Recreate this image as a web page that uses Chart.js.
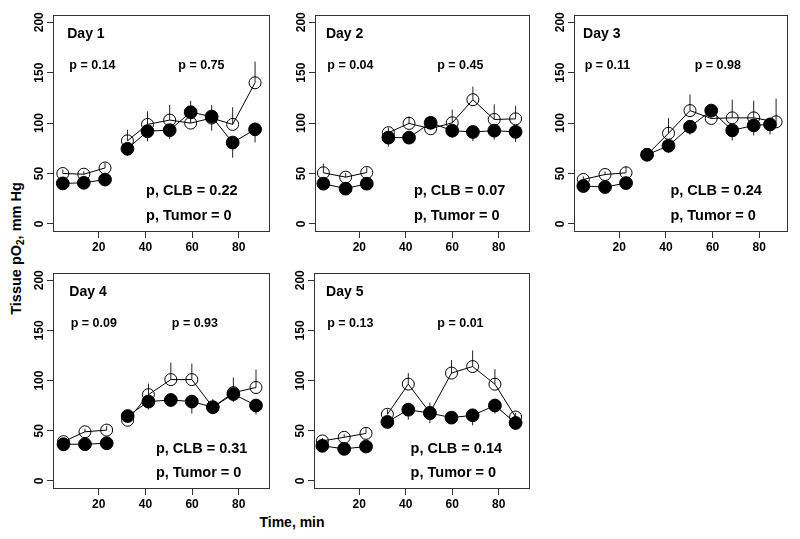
<!DOCTYPE html>
<html><head><meta charset="utf-8">
<script src="https://cdn.jsdelivr.net/npm/chart.js@4.4.0/dist/chart.umd.min.js"></script>
<style>
body{margin:0;background:#fff;width:800px;height:539px;position:relative;overflow:hidden;font-family:"Liberation Sans",Arial,sans-serif;}
canvas{position:absolute;}
.t{position:absolute;font-weight:bold;color:#000;white-space:nowrap;text-align:center;}
.t sub{font-size:10px;line-height:0;vertical-align:-3px;}
</style></head><body>
<div class="t" style="left:192px;top:514px;width:200px;font-size:14px;line-height:16px;">Time, min</div>
<div class="t" style="left:-84px;top:240px;width:200px;font-size:14.5px;line-height:17px;transform:rotate(-90deg);transform-origin:center;">Tissue pO<sub>2</sub>, mm Hg</div>
<script>
// ---- data ----
const xTicks = [20, 40, 60, 80];
const yTicks = [0, 50, 100, 150, 200];
const dayLabels = ['Day 1', 'Day 2', 'Day 3', 'Day 4', 'Day 5'];
const pBaseline = ['p = 0.14', 'p = 0.04', 'p = 0.11', 'p = 0.09', 'p = 0.13'];
const pTreatment = ['p = 0.75', 'p = 0.45', 'p = 0.98', 'p = 0.93', 'p = 0.01'];
const pCLB = ['p, CLB = 0.22', 'p, CLB = 0.07', 'p, CLB = 0.24', 'p, CLB = 0.31', 'p, CLB = 0.14'];
const pTumor = ['p, Tumor = 0', 'p, Tumor = 0', 'p, Tumor = 0', 'p, Tumor = 0', 'p, Tumor = 0'];

const day1Time = [4.6, 13.6, 22.7, 32.3, 40.9, 50.4, 59.4, 68.4, 77.4, 87.0];
const day1Open = [50, 49.3, 55.5, 82.4, 98.7, 103, 100, 105, 98.7, 140];
const day1OpenErr = [4, 3, 5, 11, 13, 15, 22, 13, 17, 21];
const day1Filled = [40.2, 40.8, 44, 74.5, 92, 93, 110.8, 106.5, 80.7, 93.8];
const day1FilledErr = [3, 3, 3, 7, 10, 9, 8, 14, 15, 13];

const day2Time = [4.5, 14.1, 23.2, 32.5, 41.4, 50.7, 60.0, 68.9, 78.1, 87.3];
const day2Open = [50.7, 46.4, 51, 90.5, 99.7, 94.4, 100.3, 123.2, 103.6, 104.2];
const day2OpenErr = [9, 4, 5, 5, 7, 4, 13, 13, 15, 13];
const day2Filled = [39.9, 35, 39.9, 85.6, 85.6, 100.3, 92.5, 91.2, 92.5, 91.3];
const day2FilledErr = [3, 3, 3, 9, 4, 5, 7, 9, 9, 10];

const day3Time = [4.6, 13.9, 22.9, 31.9, 41.1, 50.3, 59.4, 68.4, 77.6, 87.2];
const day3FilledTime = [4.6, 13.9, 22.9, 31.9, 41.1, 50.3, 59.4, 68.4, 77.6, 84.6];
const day3Open = [44.1, 49, 50.7, 68.6, 89.9, 112.4, 104.6, 105.2, 105.2, 101.3];
const day3OpenErr = [3, 3, 6, 4, 15, 16, 6, 18, 17, 23];
const day3Filled = [37.6, 36.6, 40.5, 68.6, 77.5, 96.4, 112.4, 92.8, 97.7, 98.7];
const day3FilledErr = [3, 3, 3, 4, 7, 8, 6, 10, 10, 10];

const day4Time = [4.9, 14.1, 23.4, 32.4, 41.3, 50.9, 59.9, 68.9, 77.7, 87.4];
const day4Open = [39.2, 49, 50.7, 60.5, 86, 101, 101, 73.5, 88, 93.1];
const day4OpenErr = [3, 3, 4, 3, 11, 17, 16, 8, 15, 18];
const day4Filled = [36.6, 36.6, 37.6, 64.7, 79.1, 80.7, 79.1, 73.5, 86.6, 75.2];
const day4FilledErr = [3, 3, 3, 3, 8, 7, 12, 5, 8, 9];

const day5Time = [4.1, 13.5, 22.9, 32.1, 41.1, 50.4, 59.7, 68.8, 78.4, 87.3];
const day5Open = [39.9, 43.5, 47.4, 66.4, 96.5, 68, 107.5, 114, 96.4, 63.7];
const day5OpenErr = [3, 3, 5, 5, 11, 10, 13, 16, 15, 4];
const day5Filled = [35, 32, 34.3, 58.8, 71, 67.6, 63.1, 65.4, 75.2, 57.8];
const day5FilledErr = [3, 3, 3, 7, 10, 10, 5, 10, 8, 7];

// ---- layout (not data) ----
const FONT = '"Liberation Sans", Arial, sans-serif';
const panels = [
  {left:53,  top:13,  w:217, h:219, xmin:0.4, xmax:93.4, ann:{day:6.5, p1:7.4, p2:54.1, clb:40.3},
   t:day1Time, ft:day1Time, o:day1Open, oe:day1OpenErr, f:day1Filled, fe:day1FilledErr},
  {left:315, top:13,  w:215, h:219, xmin:0.9, xmax:93.5, ann:{day:5.6, p1:6.2, p2:53.5, clb:43.5},
   t:day2Time, ft:day2Time, o:day2Open, oe:day2OpenErr, f:day2Filled, fe:day2FilledErr},
  {left:574, top:13,  w:214, h:219, xmin:0.6, xmax:92.3, ann:{day:4.5, p1:5.2, p2:52.3, clb:41.9},
   t:day3Time, ft:day3FilledTime, o:day3Open, oe:day3OpenErr, f:day3Filled, fe:day3FilledErr},
  {left:53,  top:271, w:217, h:218, xmin:0.4, xmax:93.4, ann:{day:7.4, p1:8.0, p2:51.3, clb:44.5},
   t:day4Time, ft:day4Time, o:day4Open, oe:day4OpenErr, f:day4Filled, fe:day4FilledErr},
  {left:314, top:271, w:216, h:218, xmin:0.5, xmax:93.5, ann:{day:5.7, p1:6.2, p2:53.6, clb:42.1},
   t:day5Time, ft:day5Time, o:day5Open, oe:day5OpenErr, f:day5Filled, fe:day5FilledErr}
];
const annY = {day:188, p:157, clb:32.3, tumor:7.7};

const panelPlugin = {
  id: 'panel',
  beforeDatasetsDraw(chart) {
    const {ctx} = chart; const xs = chart.scales.x, ys = chart.scales.y;
    const P = chart.options.plugins.panel;
    ctx.save(); ctx.strokeStyle = '#222'; ctx.lineWidth = 1;
    const bars = [[P.t, P.o, P.oe, 1], [P.ft, P.f, P.fe, -1]];
    bars.forEach(([t, v, e, dir]) => {
      t.forEach((tt, i) => {
        const px = xs.getPixelForValue(tt);
        ctx.beginPath();
        ctx.moveTo(px, ys.getPixelForValue(v[i]));
        ctx.lineTo(px, ys.getPixelForValue(v[i] + dir * e[i]));
        ctx.stroke();
      });
    });
    ctx.restore();
  },
  afterDraw(chart) {
    const {ctx, chartArea: ca} = chart; const xs = chart.scales.x, ys = chart.scales.y;
    const P = chart.options.plugins.panel;
    ctx.save();
    ctx.strokeStyle = '#333'; ctx.lineWidth = 1;
    ctx.strokeRect(Math.round(ca.left) + 0.5, Math.round(ca.top) + 0.5, Math.round(ca.right - ca.left) - 1, Math.round(ca.bottom - ca.top) - 1);
    // y tick labels (rotated like the reference)
    ctx.fillStyle = '#000';
    ctx.font = 'bold 12px ' + FONT;
    ctx.textAlign = 'center'; ctx.textBaseline = 'middle';
    yTicks.forEach(v => {
      ctx.save();
      ctx.translate(ca.left - 13, ys.getPixelForValue(v));
      ctx.rotate(-Math.PI / 2);
      ctx.fillText(String(v), 0, 0);
      ctx.restore();
    });
    // annotations
    ctx.textAlign = 'left'; ctx.textBaseline = 'middle';
    const A = P.ann, i = P.idx;
    ctx.font = 'bold 14px ' + FONT;
    ctx.fillText(dayLabels[i], xs.getPixelForValue(A.day), ys.getPixelForValue(annY.day));
    ctx.font = 'bold 12.5px ' + FONT;
    ctx.fillText(pBaseline[i], xs.getPixelForValue(A.p1), ys.getPixelForValue(annY.p));
    ctx.fillText(pTreatment[i], xs.getPixelForValue(A.p2), ys.getPixelForValue(annY.p));
    ctx.font = 'bold 14.5px ' + FONT;
    ctx.fillText(pCLB[i], xs.getPixelForValue(A.clb), ys.getPixelForValue(annY.clb));
    ctx.fillText(pTumor[i], xs.getPixelForValue(A.clb), ys.getPixelForValue(annY.tumor));
    ctx.restore();
  }
};

const L = 30, T = 8, R = 8, B = 30;
const gapSeg = {borderColor: c => c.p0DataIndex === 2 ? 'rgba(0,0,0,0)' : '#000'};

panels.forEach((p, idx) => {
  const cv = document.createElement('canvas');
  const W = p.w + L + R, H = p.h + T + B;
  cv.width = W; cv.height = H;
  cv.style.left = (p.left - L) + 'px'; cv.style.top = (p.top - T) + 'px';
  cv.style.width = W + 'px'; cv.style.height = H + 'px';
  document.body.appendChild(cv);
  new Chart(cv, {
    type: 'scatter',
    data: {datasets: [
      {data: p.ft.map((t, i) => ({x: t, y: p.f[i]})), showLine: true, borderColor: '#000', borderWidth: 1,
       pointRadius: 6.4, pointBackgroundColor: '#000', pointBorderColor: '#000', pointBorderWidth: 1, segment: gapSeg},
      {data: p.t.map((t, i) => ({x: t, y: p.o[i]})), showLine: true, borderColor: '#000', borderWidth: 1,
       pointRadius: 6, pointBackgroundColor: 'rgba(0,0,0,0)', pointBorderColor: '#000', pointBorderWidth: 1, segment: gapSeg}
    ]},
    options: {
      responsive: false, animation: false, events: [],
      layout: {padding: {left: 0, top: T, right: R, bottom: 0}},
      plugins: {legend: {display: false}, tooltip: {enabled: false},
        panel: {idx, ann: p.ann, t: p.t, ft: p.ft, o: p.o, oe: p.oe, f: p.f, fe: p.fe}},
      scales: {
        x: {type: 'linear', min: p.xmin, max: p.xmax,
          afterBuildTicks: s => { s.ticks = xTicks.map(v => ({value: v})); },
          afterFit: s => { s.height = B; },
          grid: {drawOnChartArea: false, drawTicks: true, tickLength: 6, color: '#333', lineWidth: 1},
          border: {display: false},
          ticks: {font: {family: FONT, size: 12, weight: 'bold'}, color: '#000', padding: 2, maxRotation: 0, autoSkip: false}},
        y: {type: 'linear', min: -8, max: 207,
          afterBuildTicks: s => { s.ticks = yTicks.map(v => ({value: v})); },
          afterFit: s => { s.width = L; },
          grid: {drawOnChartArea: false, drawTicks: true, tickLength: 6, color: '#333', lineWidth: 1},
          border: {display: false},
          ticks: {callback: () => '', autoSkip: false}}
      }
    },
    plugins: [panelPlugin]
  });
});
</script>
</body></html>
